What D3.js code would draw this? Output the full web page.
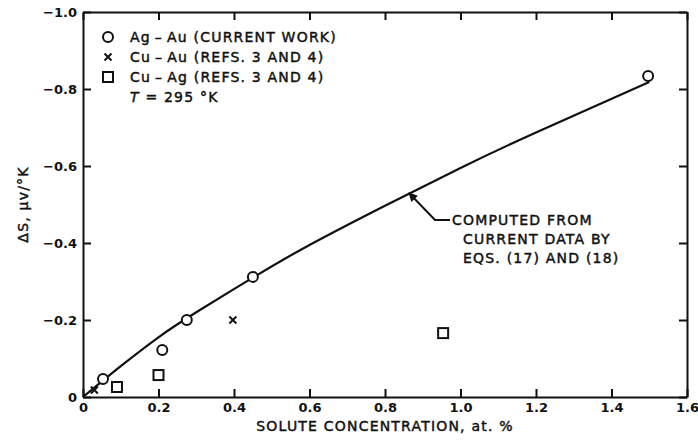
<!doctype html>
<html>
<head>
<meta charset="utf-8">
<script src="https://cdnjs.cloudflare.com/ajax/libs/d3/7.8.5/d3.min.js"></script>
<style>
  body { margin: 0; background: #fff; }
  svg { display: block; font-family: "DejaVu Sans", sans-serif; }
  .lbl { font-size: 14px; fill: #111; stroke: #111; stroke-width: 0.45px; letter-spacing: 1.2px; }
</style>
</head>
<body>
<svg width="698" height="443"></svg>
<script>
// data (solute concentration in at.%, delta S in uV/K)
var agAuX = [0.053, 0.21, 0.275, 0.45, 1.497];
var agAuY = [-0.047, -0.122, -0.20, -0.312, -0.834];
var cuAuX = [0.03, 0.397];
var cuAuY = [-0.018, -0.20];
var cuAgX = [0.09, 0.20, 0.954];
var cuAgY = [-0.026, -0.057, -0.166];
// computed curve (eqs. 17 and 18)
var curveX = [0, 0.1, 0.2, 0.3, 0.45, 0.6, 0.8, 1.0, 1.2, 1.5];
var curveY = [0, -0.08, -0.155, -0.22, -0.31, -0.395, -0.497, -0.595, -0.687, -0.818];

var xTicks = [0, 0.2, 0.4, 0.6, 0.8, 1.0, 1.2, 1.4, 1.6];
var yTicks = [0, -0.2, -0.4, -0.6, -0.8, -1.0];
var legendLabels = ["Ag\u2009\u2013\u2009Au (CURRENT WORK)", "Cu\u2009\u2013\u2009Au (REFS. 3 AND 4)", "Cu\u2009\u2013\u2009Ag (REFS. 3 AND 4)"];
var noteLines = ["COMPUTED FROM", "CURRENT DATA BY", "EQS. (17) AND (18)"];

var svg = d3.select("svg");
var pL = 83, pR = 687, pT = 12, pB = 397;

var x = d3.scaleLinear().domain([0, 1.6]).range([pL, pR]);
var y = d3.scaleLinear().domain([0, -1.0]).range([pB, pT]);

function fmtX(d){ return d === 0 ? "0" : d.toFixed(1); }
function fmtY(d){ return d === 0 ? "0" : "\u2212" + Math.abs(d).toFixed(1); }

// axes, ticks pointing into the plot
var xAxis = d3.axisBottom(x).tickValues(xTicks).tickSize(-8).tickSizeOuter(0).tickPadding(6).tickFormat(fmtX);
var yAxis = d3.axisLeft(y).tickValues(yTicks).tickSize(-8).tickSizeOuter(0).tickPadding(6).tickFormat(fmtY);
var xTop = d3.axisTop(x).tickValues(xTicks).tickSize(-8).tickSizeOuter(0).tickFormat("");
var yRight = d3.axisRight(y).tickValues(yTicks).tickSize(-8).tickSizeOuter(0).tickFormat("");

function styleAxis(g){
  g.select(".domain").attr("stroke", "#111").attr("stroke-width", 2);
  g.selectAll(".tick line").attr("stroke", "#111").attr("stroke-width", 2);
  g.selectAll(".tick text").attr("fill", "#111").style("font-size", "13px").style("font-weight", "bold")
    .style("font-family", "DejaVu Sans, sans-serif");
}

svg.append("g").attr("transform", "translate(0," + pB + ")").call(xAxis).call(styleAxis);
svg.append("g").attr("transform", "translate(" + pL + ",0)").call(yAxis).call(styleAxis);
svg.append("g").attr("transform", "translate(0," + pT + ")").call(xTop).call(styleAxis);
svg.append("g").attr("transform", "translate(" + pR + ",0)").call(yRight).call(styleAxis);

// computed curve
var line = d3.line().x(function(d){ return x(d[0]); }).y(function(d){ return y(d[1]); }).curve(d3.curveNatural);
svg.append("path")
  .datum(d3.zip(curveX, curveY))
  .attr("d", line)
  .attr("fill", "none")
  .attr("stroke", "#111")
  .attr("stroke-width", 2.2);

// markers
function drawCircles(g, pts){
  g.selectAll("circle.m").data(pts).enter().append("circle")
    .attr("cx", function(d){ return d[0]; }).attr("cy", function(d){ return d[1]; })
    .attr("r", 5).attr("fill", "#fff").attr("stroke", "#111").attr("stroke-width", 2);
}
function drawSquares(g, pts){
  g.selectAll("rect.m").data(pts).enter().append("rect")
    .attr("x", function(d){ return d[0] - 5; }).attr("y", function(d){ return d[1] - 5; })
    .attr("width", 10).attr("height", 10).attr("fill", "#fff").attr("stroke", "#111").attr("stroke-width", 2);
}
function drawCrosses(g, pts){
  g.selectAll("path.m").data(pts).enter().append("path")
    .attr("d", function(d){ var s = 3.5; return "M" + (d[0]-s) + "," + (d[1]-s) + "L" + (d[0]+s) + "," + (d[1]+s) +
      "M" + (d[0]-s) + "," + (d[1]+s) + "L" + (d[0]+s) + "," + (d[1]-s); })
    .attr("stroke", "#111").attr("stroke-width", 2).attr("fill", "none");
}

var marks = svg.append("g");
drawCircles(marks, d3.zip(agAuX, agAuY).map(function(d){ return [x(d[0]), y(d[1])]; }));
drawCrosses(marks, d3.zip(cuAuX, cuAuY).map(function(d){ return [x(d[0]), y(d[1])]; }));
drawSquares(marks, d3.zip(cuAgX, cuAgY).map(function(d){ return [x(d[0]), y(d[1])]; }));

// legend
var lg = svg.append("g");
var rows = [37, 57, 77];
drawCircles(lg, [[108, rows[0]]]);
drawCrosses(lg, [[108, rows[1]]]);
drawSquares(lg, [[108, rows[2]]]);
lg.selectAll("text.leg").data(legendLabels).enter().append("text")
  .attr("class", "lbl").attr("x", 130).attr("y", function(d, i){ return rows[i] + 5; })
  .text(function(d){ return d; });
var tt = lg.append("text").attr("class", "lbl").attr("x", 130).attr("y", 102);
tt.append("tspan").style("font-style", "italic").text("T");
tt.append("tspan").text(" = 295 \u00b0K");

// annotation with arrow
svg.append("defs").append("marker")
  .attr("id", "ah").attr("viewBox", "0 0 10 10").attr("refX", 9).attr("refY", 5)
  .attr("markerWidth", 6).attr("markerHeight", 4.5).attr("orient", "auto-start-reverse")
  .append("path").attr("d", "M0,0L10,5L0,10Z").attr("fill", "#111");
svg.append("path")
  .attr("d", "M450,220L435,220L409,193")
  .attr("fill", "none").attr("stroke", "#111").attr("stroke-width", 2)
  .attr("marker-end", "url(#ah)");
svg.append("g").selectAll("text").data(noteLines).enter().append("text")
  .attr("class", "lbl")
  .attr("x", function(d, i){ return i === 0 ? 452 : 463; })
  .attr("y", function(d, i){ return 225 + i * 19; })
  .text(function(d){ return d; });

// axis titles
svg.append("text").attr("class", "lbl")
  .attr("x", (pL + pR) / 2).attr("y", 431).attr("text-anchor", "middle")
  .text("SOLUTE CONCENTRATION, at. %");
svg.append("text").attr("class", "lbl")
  .attr("transform", "translate(28," + ((pT + pB) / 2) + ") rotate(-90)")
  .attr("text-anchor", "middle")
  .text("\u0394S, \u03bcv/\u00b0K");
</script>
</body>
</html>
